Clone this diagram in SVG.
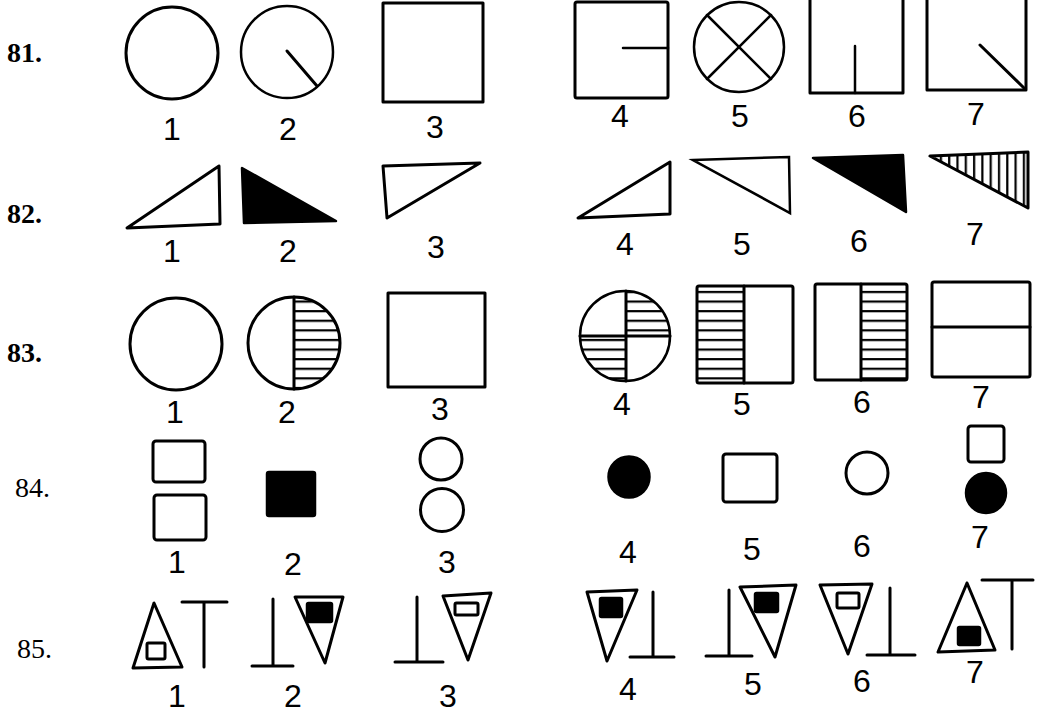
<svg xmlns="http://www.w3.org/2000/svg" width="1048" height="712" viewBox="0 0 1048 712">
<defs>
<pattern id="hh" patternUnits="userSpaceOnUse" width="20" height="9.6"><line x1="0" y1="4" x2="20" y2="4" stroke="#000" stroke-width="2.2"/></pattern>
<pattern id="vh" patternUnits="userSpaceOnUse" width="8.3" height="20"><line x1="3" y1="0" x2="3" y2="20" stroke="#000" stroke-width="2.2"/></pattern>
</defs>
<style>
.s{fill:none;stroke:#000;stroke-width:3;stroke-linejoin:round;stroke-linecap:round}
.t{fill:none;stroke:#000;stroke-width:2.5;stroke-linecap:round}
.f{fill:#000;stroke:#000;stroke-width:2.5;stroke-linejoin:round}
.h{fill:url(#hh);stroke:none}
.v{fill:url(#vh);stroke:none}
.n{font-family:"Liberation Sans",Arial,sans-serif;font-size:32px;text-anchor:middle;fill:#000}
.q{font-family:"Liberation Serif","Times New Roman",serif;font-size:28px;fill:#000}
.b{font-weight:bold}
</style>
<rect width="1048" height="712" fill="#fff"/>

<g id="row-labels">
<text class="q b" x="7" y="62">81.</text>
<text class="q b" x="7" y="223">82.</text>
<text class="q b" x="7" y="362">83.</text>
<text class="q" x="15" y="497">84.</text>
<text class="q" x="17" y="658">85.</text>
</g>

<!-- Row 81 -->
<g id="r81-1"><circle class="s" cx="172" cy="53" r="46"/><text class="n" x="172" y="140">1</text></g>
<g id="r81-2"><circle class="t" cx="287" cy="52" r="46"/><line class="s" x1="287" y1="51" x2="317" y2="86"/><text class="n" x="288" y="140">2</text></g>
<g id="r81-3"><rect class="s" x="383" y="3" width="100" height="99"/><text class="n" x="435" y="138">3</text></g>
<g id="r81-4"><rect class="s" x="575" y="2" width="93" height="96" rx="2"/><line class="t" x1="623" y1="48" x2="668" y2="48"/><text class="n" x="620" y="127">4</text></g>
<g id="r81-5"><circle class="t" cx="739" cy="47" r="45"/><line class="t" x1="707" y1="15" x2="771" y2="79"/><line class="t" x1="771" y1="15" x2="707" y2="79"/><text class="n" x="740" y="127">5</text></g>
<g id="r81-6"><path class="s" d="M810,-5 V93 H903 V-5"/><line class="t" x1="855" y1="46" x2="855" y2="93"/><text class="n" x="857" y="127">6</text></g>
<g id="r81-7"><path class="s" d="M927,-5 V90 H1026 V-5"/><line class="s" x1="980" y1="45" x2="1024" y2="88"/><text class="n" x="976" y="125">7</text></g>

<!-- Row 82 -->
<g id="r82-1"><polygon class="s" points="127,228 220,224 219,166"/><text class="n" x="172" y="262">1</text></g>
<g id="r82-2"><polygon class="f" points="242,168 244,223 336,221"/><text class="n" x="288" y="262">2</text></g>
<g id="r82-3"><polygon class="s" points="383,166 480,163 387,218"/><text class="n" x="436" y="258">3</text></g>
<g id="r82-4"><polygon class="s" points="578,218 670,214 670,162"/><text class="n" x="625" y="255">4</text></g>
<g id="r82-5"><polygon class="t" points="693,160 789,157 790,213"/><text class="n" x="742" y="255">5</text></g>
<g id="r82-6"><polygon class="f" points="813,158 903,155 906,212"/><text class="n" x="859" y="252">6</text></g>
<g id="r82-7"><polygon class="v" points="930,156 1028,152 1028,208"/><polygon class="s" points="930,156 1028,152 1028,208"/><text class="n" x="975" y="245">7</text></g>

<!-- Row 83 -->
<g id="r83-1"><circle class="s" cx="176" cy="344" r="46"/><text class="n" x="175" y="423">1</text></g>
<g id="r83-2"><path class="h" d="M294,297 A46,46 0 0 1 294,389 Z"/><circle class="s" cx="294" cy="343" r="46"/><line class="s" x1="294" y1="297" x2="294" y2="389"/><text class="n" x="287" y="423">2</text></g>
<g id="r83-3"><rect class="s" x="388" y="293" width="97" height="94"/><text class="n" x="440" y="420">3</text></g>
<g id="r83-4"><path class="h" d="M626,336 L626,291 A45,45 0 0 1 670,336 Z"/><path class="h" d="M626,336 L580,336 A45,45 0 0 0 626,381 Z"/><circle class="t" cx="625" cy="336" r="45"/><line class="s" x1="626" y1="291" x2="626" y2="381"/><line class="s" x1="580" y1="336" x2="670" y2="336"/><text class="n" x="622" y="415">4</text></g>
<g id="r83-5"><rect class="h" x="697" y="286" width="47" height="97"/><rect class="s" x="697" y="286" width="96" height="97" rx="2"/><line class="s" x1="744" y1="286" x2="744" y2="383"/><text class="n" x="742" y="415">5</text></g>
<g id="r83-6"><rect class="h" x="861" y="284" width="46" height="96"/><rect class="s" x="815" y="284" width="92" height="96" rx="2"/><line class="s" x1="861" y1="284" x2="861" y2="380"/><text class="n" x="862" y="413">6</text></g>
<g id="r83-7"><rect class="s" x="932" y="282" width="98" height="95" rx="2"/><line class="s" x1="932" y1="327" x2="1030" y2="327"/><text class="n" x="981" y="408">7</text></g>

<!-- Row 84 -->
<g id="r84-1"><rect class="s" x="153" y="441" width="52" height="41" rx="3"/><rect class="s" x="154" y="495" width="52" height="45" rx="3"/><text class="n" x="177" y="573">1</text></g>
<g id="r84-2"><rect class="f" x="267" y="472" width="48" height="44" rx="2"/><text class="n" x="293" y="575">2</text></g>
<g id="r84-3"><circle class="s" cx="441" cy="459" r="21"/><circle class="s" cx="442" cy="510" r="21.5"/><text class="n" x="447" y="573">3</text></g>
<g id="r84-4"><circle class="f" cx="629" cy="477" r="20.5"/><text class="n" x="628" y="563">4</text></g>
<g id="r84-5"><rect class="s" x="723" y="454" width="54" height="48" rx="3"/><text class="n" x="752" y="560">5</text></g>
<g id="r84-6"><circle class="s" cx="867" cy="473" r="21"/><text class="n" x="862" y="557">6</text></g>
<g id="r84-7"><rect class="s" x="968" y="426" width="36" height="36" rx="3"/><circle class="f" cx="986" cy="493" r="20"/><text class="n" x="980" y="548">7</text></g>

<!-- Row 85 -->
<g id="r85-1"><polygon class="s" points="154,603 133,668 182,667"/><rect class="s" x="147" y="643" width="18" height="16" rx="1.5"/><path class="s" d="M182,602 H227 M204,602 V667"/><text class="n" x="177" y="707">1</text></g>
<g id="r85-2"><path class="s" d="M273,599 V666 M252,666 H293"/><polygon class="s" points="295,597 343,597 325,663"/><rect class="f" x="307" y="603" width="25" height="19" rx="1.5"/><text class="n" x="293" y="707">2</text></g>
<g id="r85-3"><path class="s" d="M417,597 V662 M395,662 H443"/><polygon class="s" points="443,596 491,593 468,660"/><rect class="s" x="455" y="603" width="23" height="12" rx="1.5"/><text class="n" x="448" y="707">3</text></g>
<g id="r85-4"><polygon class="s" points="587,592 637,590 607,661"/><rect class="f" x="600" y="598" width="22" height="19" rx="1.5"/><path class="s" d="M653,592 V657 M630,657 H674"/><text class="n" x="628" y="700">4</text></g>
<g id="r85-5"><path class="s" d="M729,590 V656 M706,656 H752"/><polygon class="s" points="740,587 796,585 775,657"/><rect class="f" x="755" y="593" width="23" height="19" rx="1.5"/><text class="n" x="753" y="695">5</text></g>
<g id="r85-6"><polygon class="s" points="820,585 872,584 848,654"/><rect class="s" x="837" y="593" width="22" height="15" rx="1.5"/><path class="s" d="M890,588 V655 M867,655 H915"/><text class="n" x="862" y="692">6</text></g>
<g id="r85-7"><polygon class="s" points="967,583 938,652 995,650"/><rect class="f" x="958" y="627" width="22" height="18" rx="1.5"/><path class="s" d="M982,580 H1033 M1012,580 V649"/><text class="n" x="975" y="683">7</text></g>
</svg>
